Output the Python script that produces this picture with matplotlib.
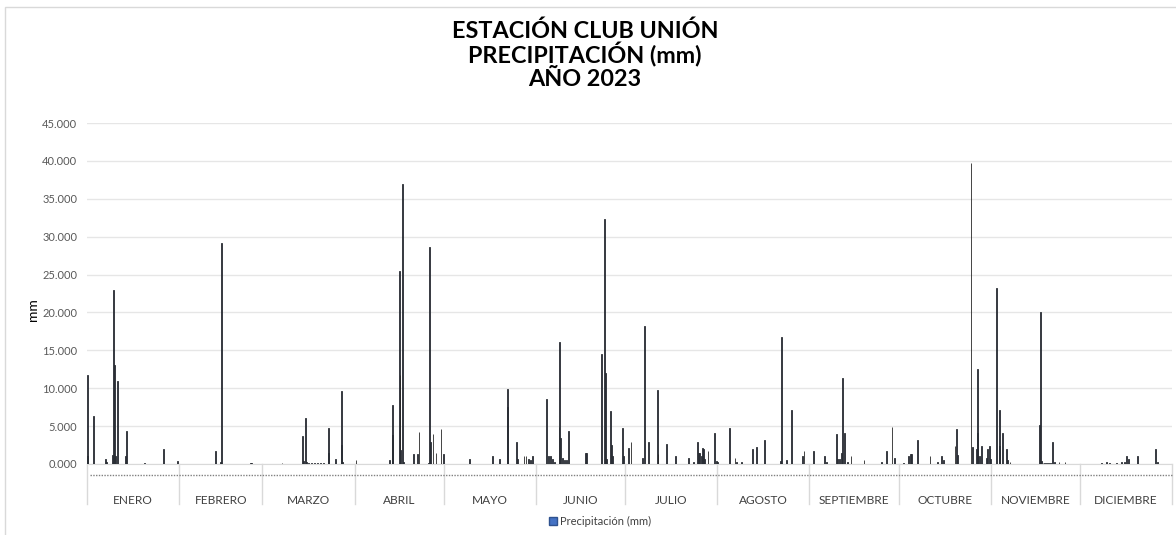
import matplotlib
matplotlib.use("Agg")
import matplotlib.pyplot as plt
from matplotlib.patches import Rectangle, Patch
from matplotlib.transforms import blended_transform_factory

plt.rcParams['font.family'] = ['Lato', 'DejaVu Sans']

# Meses del año y número de días de cada uno (eje de categorías)
meses = ["ENERO", "FEBRERO", "MARZO", "ABRIL", "MAYO", "JUNIO", "JULIO",
         "AGOSTO", "SEPTIEMBRE", "OCTUBRE", "NOVIEMBRE", "DICIEMBRE"]
dias_por_mes = [31, 28, 31, 30, 31, 30, 31, 31, 30, 31, 30, 31]

# Momento de cada registro (día del año, 0 = 1 de enero a las 00:00)
dia = [
    0.1, 0.3, 2.25, 6.3, 6.6, 8.6, 8.95, 9.3, 9.6, 10.2, 12.9, 13.3, 19.2, 25.6, 30.4,
    43.3, 44.9, 45.2, 55.0, 55.3,
    65.6, 72.5, 72.8, 73.5, 73.8, 74.5, 75.5, 76.5, 77.5, 78.5, 79.5, 81.2, 81.3,
    83.6, 85.5, 85.6, 86.0,
    90.5, 101.7, 102.7, 102.9, 105.0, 105.3, 105.5, 106.2, 106.5, 109.9, 111.3, 111.7,
    115.0, 115.3, 115.5, 116.4, 117.4, 119.1, 119.9,
    128.6, 136.5, 138.7, 141.5, 141.6, 144.6, 144.9, 147.0, 147.7, 148.6, 149.2, 150.0,
    151.4, 152.0, 154.5, 155.4, 155.9, 156.5, 157.3, 158.8, 159.1, 159.3, 159.9, 160.6,
    161.4, 162.1, 167.6, 168.0, 173.0, 174.2, 174.4, 174.8, 176.1, 176.3, 176.9, 180.1,
    180.5,
    182.1, 183.0, 187.0, 187.6, 188.9, 191.9, 192.1, 195.0, 198.1, 202.2, 204.0, 205.3,
    205.8, 206.1, 206.7, 207.2, 207.5, 207.8, 208.9, 211.0, 211.8, 212.2,
    216.0, 218.0, 218.6, 220.1, 223.9, 225.1, 227.9, 233.3, 233.5, 235.2, 237.0, 240.7,
    241.2,
    244.5, 248.0, 248.8, 252.2, 252.6, 253.0, 253.9, 254.2, 254.8, 255.9, 257.0, 261.4,
    267.3, 268.9, 270.8, 271.7,
    274.6, 276.4, 277.0, 277.5, 279.4, 283.6, 286.0, 287.4, 288.2, 292.0, 292.6, 292.8,
    297.4, 297.8, 299.3, 299.5, 299.7, 300.3, 300.9, 302.6, 303.0, 303.5, 303.8,
    305.9, 306.9, 307.0, 307.9, 309.4, 309.6, 310.5, 320.5, 320.8, 321.1, 321.6, 322.2,
    322.8, 323.4, 324.0, 324.9, 325.6, 327.0, 329.0,
    341.2, 343.1, 344.1, 346.4, 348.0, 348.9, 349.8, 350.4, 353.4, 359.4, 360.1,
]

# Precipitación registrada (mm)
precipitacion = [
    11.7, 1.1, 6.4, 0.6, 0.2, 1.2, 23.0, 13.0, 1.0, 11.0, 1.0, 4.35, 0.1, 1.95, 0.4,
    1.7, 0.2, 29.2, 0.1, 0.1,
    0.1, 3.75, 0.4, 6.1, 0.3, 0.1, 0.1, 0.1, 0.1, 0.1, 0.1, 1.5, 4.7,
    0.6, 2.5, 9.6, 0.3,
    0.5, 0.5, 7.75, 3.8, 25.5, 11.75, 1.9, 37.0, 0.3, 1.3, 1.3, 4.2,
    0.1, 28.6, 2.9, 3.9, 1.5, 4.6, 1.3,
    0.6, 1.1, 0.6, 7.5, 9.9, 2.85, 0.7, 1.1, 1.0, 0.6, 0.5, 1.1,
    0.05, 0.05, 8.55, 1.1, 1.0, 0.6, 0.2, 4.9, 16.15, 3.4, 0.75, 0.5,
    0.5, 4.35, 1.5, 1.5, 14.55, 32.3, 12.0, 0.7, 7.0, 2.5, 1.0, 4.7,
    1.0,
    2.05, 2.85, 0.75, 18.2, 2.85, 9.8, 1.3, 2.7, 1.0, 0.75, 0.3, 2.85,
    1.5, 1.5, 1.0, 2.1, 1.95, 0.7, 1.7, 4.15, 0.4, 0.2,
    4.7, 0.75, 0.3, 0.3, 1.95, 2.3, 3.2, 0.4, 16.7, 0.5, 7.1, 1.1,
    1.7,
    1.7, 1.0, 0.3, 3.9, 0.7, 0.7, 1.5, 11.35, 4.15, 0.3, 1.0, 0.5,
    0.3, 1.7, 4.9, 0.75,
    0.1, 1.1, 1.3, 1.3, 3.2, 1.1, 0.2, 1.0, 0.5, 2.4, 4.6, 1.2,
    39.7, 2.3, 1.95, 4.1, 12.55, 1.0, 2.4, 0.75, 1.95, 2.4, 0.6,
    23.2, 7.1, 2.4, 4.1, 1.95, 0.5, 0.3, 5.15, 20.1, 0.4, 0.15, 0.15,
    0.15, 0.15, 0.15, 2.85, 0.3, 0.3, 0.2,
    0.15, 0.3, 0.15, 0.15, 0.2, 0.3, 1.1, 0.7, 1.1, 2.0, 0.2,
]

y_ticks = [0, 5, 10, 15, 20, 25, 30, 35, 40, 45]

W, H = 1176, 535
fig = plt.figure(figsize=(W / 100, H / 100), dpi=100)


def fx(px):
    return px / W


def fy(py):
    return 1 - py / H


# Marco exterior del gráfico
fig.patches.append(Rectangle((fx(5), fy(560)), 1.2, fy(7) - fy(560),
                             transform=fig.transFigure, fill=False,
                             edgecolor='#d9d9d9', lw=1))

ax = fig.add_axes([fx(87), fy(464), fx(1172) - fx(87), fy(123) - fy(464)])
ax.bar(dia, precipitacion, width=0.3, align='center',
       facecolor='#4472C4', edgecolor='#262626', linewidth=0.6, zorder=3)

total_dias = sum(dias_por_mes)
ax.set_xlim(0, total_dias)
ax.set_ylim(0, 45)
ax.set_yticks(y_ticks)
ax.set_yticklabels([f"{v:.3f}" for v in y_ticks], fontsize=8, color='#595959')
ax.tick_params(axis='y', length=0, pad=7)
ax.set_xticks([])
for side in ('left', 'right', 'top'):
    ax.spines[side].set_visible(False)
ax.spines['bottom'].set_color('#d9d9d9')
ax.yaxis.grid(True, color='#e6e6e6', lw=1)
ax.set_axisbelow(True)

# Eje de categorías: separadores de mes, línea de días y nombres de mes
trans = blended_transform_factory(ax.transData, fig.transFigure)
limites = [0]
for n in dias_por_mes:
    limites.append(limites[-1] + n)
for b in limites:
    ax.plot([b, b], [fy(464), fy(504)], transform=trans, color='#d9d9d9',
            lw=1, clip_on=False)
ax.plot([1, total_dias], [fy(475), fy(475)], transform=trans, color='#808080',
        lw=1, linestyle=(0, (1, 1)), clip_on=False)
for i, nombre in enumerate(meses):
    centro = (limites[i] + limites[i + 1]) / 2
    ax.text(centro, fy(500), nombre, transform=trans, ha='center', va='center',
            fontsize=8.6, color='#404040')

# Títulos
for texto, y in (("ESTACIÓN CLUB UNIÓN", 31), ("PRECIPITACIÓN (mm)", 55),
                 ("AÑO 2023", 79)):
    fig.text(fx(585), fy(y), texto, ha='center', va='center',
             fontsize=16.8, fontweight='bold', color='#000000')

fig.text(fx(33), fy(310), "mm", rotation=90, ha='center', va='center',
         fontsize=10, color='#000000')

fig.legend(handles=[Patch(facecolor='#4472C4', edgecolor='#2f528f')],
           labels=['Precipitación (mm)'], loc='center',
           bbox_to_anchor=(fx(600), fy(521)), frameon=False, fontsize=8,
           handlelength=0.7, handleheight=0.7, handletextpad=0.3,
           labelcolor='#404040')

fig.savefig("out.png", dpi=100)
